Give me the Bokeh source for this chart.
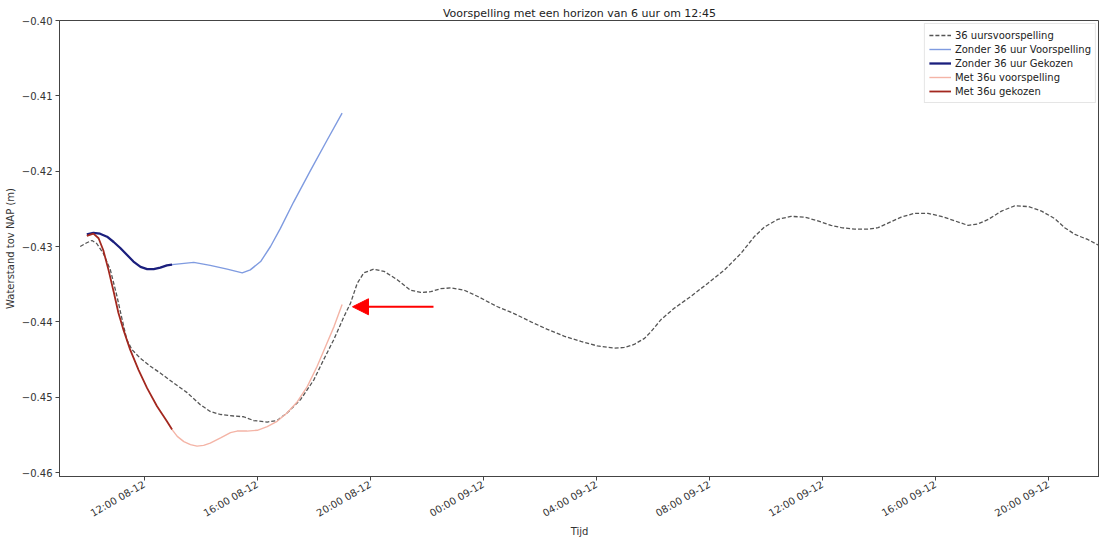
import pandas as pd
from bokeh.plotting import figure
from bokeh.models import (Range1d, FixedTicker, DatetimeTickFormatter, Legend,
                          LegendItem, Arrow, NormalHead)
from bokeh.embed import file_html
from bokeh.resources import INLINE

# 36-hour forecast (dashed reference line), water level in m relative to NAP
t36 = ["2018-12-08 09:44", "2018-12-08 09:58", "2018-12-08 10:09", "2018-12-08 10:19",
       "2018-12-08 10:33", "2018-12-08 10:48", "2018-12-08 11:02", "2018-12-08 11:13",
       "2018-12-08 11:23", "2018-12-08 11:34", "2018-12-08 11:51", "2018-12-08 12:13",
       "2018-12-08 12:34", "2018-12-08 13:02", "2018-12-08 13:31", "2018-12-08 13:59",
       "2018-12-08 14:20", "2018-12-08 14:42", "2018-12-08 15:10", "2018-12-08 15:31",
       "2018-12-08 15:52", "2018-12-08 16:21", "2018-12-08 16:42", "2018-12-08 17:03",
       "2018-12-08 17:32", "2018-12-08 18:00", "2018-12-08 18:21", "2018-12-08 18:42",
       "2018-12-08 19:04", "2018-12-08 19:18", "2018-12-08 19:32", "2018-12-08 19:46",
       "2018-12-08 20:07", "2018-12-08 20:29", "2018-12-08 20:57", "2018-12-08 21:25",
       "2018-12-08 21:47", "2018-12-08 22:08", "2018-12-08 22:29", "2018-12-08 22:51",
       "2018-12-08 23:19", "2018-12-08 23:47", "2018-12-09 00:30", "2018-12-09 01:05",
       "2018-12-09 01:41", "2018-12-09 02:16", "2018-12-09 02:51", "2018-12-09 03:27",
       "2018-12-09 04:02", "2018-12-09 04:38", "2018-12-09 04:59", "2018-12-09 05:20",
       "2018-12-09 05:42", "2018-12-09 05:56", "2018-12-09 06:17", "2018-12-09 06:45",
       "2018-12-09 07:21", "2018-12-09 07:56", "2018-12-09 08:32", "2018-12-09 09:07",
       "2018-12-09 09:35", "2018-12-09 09:57", "2018-12-09 10:25", "2018-12-09 10:53",
       "2018-12-09 11:22", "2018-12-09 11:50", "2018-12-09 12:18", "2018-12-09 12:40",
       "2018-12-09 13:08", "2018-12-09 13:36", "2018-12-09 13:58", "2018-12-09 14:19",
       "2018-12-09 14:47", "2018-12-09 15:15", "2018-12-09 15:44", "2018-12-09 16:12",
       "2018-12-09 16:41", "2018-12-09 17:09", "2018-12-09 17:30", "2018-12-09 17:52",
       "2018-12-09 18:20", "2018-12-09 18:48", "2018-12-09 19:17", "2018-12-09 19:45",
       "2018-12-09 20:13", "2018-12-09 20:34", "2018-12-09 20:56", "2018-12-09 21:24",
       "2018-12-09 21:45"]
v36 = [-0.4300, -0.4295, -0.4292, -0.4296, -0.4309, -0.4331, -0.4366, -0.4397,
       -0.4424, -0.4437, -0.4448, -0.4459, -0.4468, -0.4481, -0.4494, -0.4510,
       -0.4519, -0.4523, -0.4525, -0.4526, -0.4531, -0.4533, -0.4531, -0.4521,
       -0.4503, -0.4477, -0.4450, -0.4424, -0.4393, -0.4375, -0.4349, -0.4335,
       -0.4330, -0.4333, -0.4344, -0.4358, -0.4361, -0.4360, -0.4356, -0.4355,
       -0.4358, -0.4366, -0.4380, -0.4389, -0.4400, -0.4410, -0.4419, -0.4426,
       -0.4432, -0.4435, -0.4434, -0.4430, -0.4422, -0.4413, -0.4397, -0.4382,
       -0.4366, -0.4349, -0.4331, -0.4309, -0.4287, -0.4274, -0.4264, -0.4260,
       -0.4261, -0.4266, -0.4272, -0.4275, -0.4277, -0.4277, -0.4275, -0.4269,
       -0.4261, -0.4256, -0.4256, -0.4260, -0.4266, -0.4272, -0.4270, -0.4264,
       -0.4253, -0.4246, -0.4247, -0.4253, -0.4263, -0.4275, -0.4284, -0.4291,
       -0.4298]

# Without the 36-hour forecast: selected part and the prediction after it
t_zonder_gekozen = ["2018-12-08 09:58", "2018-12-08 10:12", "2018-12-08 10:26",
                    "2018-12-08 10:41", "2018-12-08 10:55", "2018-12-08 11:09",
                    "2018-12-08 11:23", "2018-12-08 11:37", "2018-12-08 11:52",
                    "2018-12-08 12:06", "2018-12-08 12:20", "2018-12-08 12:34",
                    "2018-12-08 12:48", "2018-12-08 12:59"]
v_zonder_gekozen = [-0.4284, -0.4282, -0.4283, -0.4287, -0.4294, -0.4302, -0.4311,
                    -0.4320, -0.4327, -0.4330, -0.4330, -0.4328, -0.4325, -0.4324]
t_zonder_voorsp = ["2018-12-08 12:59", "2018-12-08 13:45", "2018-12-08 14:20",
                   "2018-12-08 14:56", "2018-12-08 15:28", "2018-12-08 15:45",
                   "2018-12-08 16:07", "2018-12-08 16:28", "2018-12-08 16:49",
                   "2018-12-08 17:17", "2018-12-08 17:53", "2018-12-08 18:28",
                   "2018-12-08 19:00"]
v_zonder_voorsp = [-0.4324, -0.4321, -0.4325, -0.4330, -0.4335, -0.4331, -0.4320,
                   -0.4300, -0.4276, -0.4241, -0.4199, -0.4159, -0.4123]

# With the 36-hour forecast: selected part and the prediction after it
t_met_gekozen = ["2018-12-08 09:58", "2018-12-08 10:12", "2018-12-08 10:23",
                 "2018-12-08 10:33", "2018-12-08 10:44", "2018-12-08 10:55",
                 "2018-12-08 11:05", "2018-12-08 11:16", "2018-12-08 11:30",
                 "2018-12-08 11:48", "2018-12-08 12:06", "2018-12-08 12:27",
                 "2018-12-08 12:48", "2018-12-08 12:59"]
v_met_gekozen = [-0.4286, -0.4283, -0.4289, -0.4305, -0.4331, -0.4360, -0.4388,
                 -0.4411, -0.4437, -0.4464, -0.4488, -0.4512, -0.4532, -0.4543]
t_met_voorsp = ["2018-12-08 12:59", "2018-12-08 13:10", "2018-12-08 13:24",
                "2018-12-08 13:38", "2018-12-08 13:52", "2018-12-08 14:06",
                "2018-12-08 14:20", "2018-12-08 14:42", "2018-12-08 15:03",
                "2018-12-08 15:17", "2018-12-08 15:38", "2018-12-08 16:00",
                "2018-12-08 16:21", "2018-12-08 16:42", "2018-12-08 17:03",
                "2018-12-08 17:25", "2018-12-08 17:46", "2018-12-08 18:07",
                "2018-12-08 18:28", "2018-12-08 18:43", "2018-12-08 19:00"]
v_met_voorsp = [-0.4543, -0.4552, -0.4559, -0.4563, -0.4565, -0.4564, -0.4561,
                -0.4554, -0.4547, -0.4545, -0.4545, -0.4544, -0.4539, -0.4532,
                -0.4521, -0.4506, -0.4486, -0.4459, -0.4428, -0.4406, -0.4377]

y_ticks = [-0.46, -0.45, -0.44, -0.43, -0.42, -0.41, -0.40]
x_tick_times = ["2018-12-08 12:00", "2018-12-08 16:00", "2018-12-08 20:00",
                "2018-12-09 00:00", "2018-12-09 04:00", "2018-12-09 08:00",
                "2018-12-09 12:00", "2018-12-09 16:00", "2018-12-09 20:00"]

FONT = "DejaVu Sans"
dt = pd.to_datetime

p = figure(width=1099, height=540, output_backend="svg", toolbar_location=None,
           x_axis_type="datetime",
           x_range=Range1d(pd.Timestamp("2018-12-08 09:00"), pd.Timestamp("2018-12-09 21:48")),
           y_range=Range1d(-0.46053, -0.40),
           min_border_left=59, min_border_right=0, min_border_top=20, min_border_bottom=59)

p.title.text = "Voorspelling met een horizon van 6 uur om 12:45"
p.title.align = "center"
p.title.text_font = FONT
p.title.text_font_size = "11px"
p.title.text_font_style = "normal"
p.title.text_color = "#222222"
p.title.offset = 0
p.title.standoff = 2

p.xgrid.visible = False
p.ygrid.visible = False
p.outline_line_color = "#444444"
p.outline_line_width = 1

r36 = p.line(dt(t36), v36, line_color="#555555", line_width=1.3, line_dash="4 2")
rzv = p.line(dt(t_zonder_voorsp), v_zonder_voorsp, line_color="#7f9be0", line_width=1.4)
rzg = p.line(dt(t_zonder_gekozen), v_zonder_gekozen, line_color="#1b1f7d", line_width=2.3)
rmv = p.line(dt(t_met_voorsp), v_met_voorsp, line_color="#f4b4a6", line_width=1.4)
rmg = p.line(dt(t_met_gekozen), v_met_gekozen, line_color="#a3281f", line_width=1.8)

# Pointer towards the end of the forecast window
p.add_layout(Arrow(end=NormalHead(size=16, fill_color="#ff0000", line_color="#ff0000"),
                   x_start=pd.Timestamp("2018-12-08 22:14"), y_start=-0.4380,
                   x_end=pd.Timestamp("2018-12-08 19:22"), y_end=-0.4380,
                   line_color="#ff0000", line_width=2.2))

# y axis
p.yaxis.ticker = FixedTicker(ticks=y_ticks)
p.yaxis.major_label_overrides = {t: f"\u2212{abs(t):.2f}" for t in y_ticks}
p.yaxis.axis_label = "Waterstand tov NAP (m)"
# x axis
p.xaxis.ticker = FixedTicker(ticks=[pd.Timestamp(t).value / 1e6 for t in x_tick_times])
fmt = "%H:%M %d-%m"
p.xaxis.formatter = DatetimeTickFormatter(minutes=fmt, hourmin=fmt, hours=fmt, days=fmt,
                                          months=fmt, years=fmt)
p.xaxis.major_label_orientation = 0.52
p.xaxis.axis_label = "Tijd"

for ax in (p.xaxis[0], p.yaxis[0]):
    ax.minor_tick_line_color = None
    ax.major_tick_in = 0
    ax.major_tick_out = 4
    ax.axis_line_color = "#444444"
    ax.major_tick_line_color = "#444444"
    ax.major_label_text_font = FONT
    ax.major_label_text_font_size = "10px"
    ax.major_label_text_color = "#333333"
    ax.axis_label_text_font = FONT
    ax.axis_label_text_font_size = "10px"
    ax.axis_label_text_font_style = "normal"
    ax.axis_label_text_color = "#333333"
p.xaxis.major_label_standoff = 3
p.xaxis.axis_label_standoff = 0
p.yaxis.major_label_standoff = 3
p.yaxis.axis_label_standoff = 3

legend = Legend(items=[
    LegendItem(label="36 uursvoorspelling", renderers=[r36]),
    LegendItem(label="Zonder 36 uur Voorspelling", renderers=[rzv]),
    LegendItem(label="Zonder 36 uur Gekozen", renderers=[rzg]),
    LegendItem(label="Met 36u voorspelling", renderers=[rmv]),
    LegendItem(label="Met 36u gekozen", renderers=[rmg]),
], location="top_right")
legend.label_text_font = FONT
legend.label_text_font_size = "10px"
legend.label_text_color = "#222222"
legend.glyph_width = 22
legend.glyph_height = 14
legend.label_height = 14
legend.label_standoff = 4
legend.spacing = 0
legend.padding = 4
legend.margin = 3
legend.border_line_color = "#cccccc"
legend.background_fill_alpha = 0.9
p.add_layout(legend)

open("out.html", "w").write(file_html(p, INLINE))
